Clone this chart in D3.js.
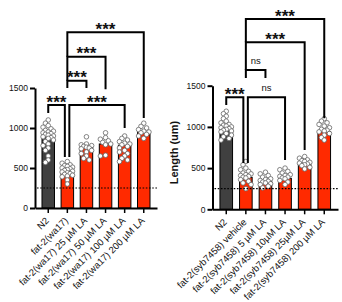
<!DOCTYPE html>
<html>
<head>
<meta charset="utf-8">
<script src="https://cdn.jsdelivr.net/npm/d3@7"></script>
<style>
  body { margin: 0; background: #fff; }
  svg { display: block; font-family: "Liberation Sans", Arial, sans-serif; }
</style>
</head>
<body>
<div id="chart"></div>
<script>
// ---- data ----
const leftGroups = ["N2", "fat-2(wa17)", "fat-2(wa17) 25 µM LA", "fat-2(wa17) 50 µM LA", "fat-2(wa17) 100 µM LA", "fat-2(wa17) 200 µM LA"];
const leftMeans = [890, 450, 755, 800, 785, 942];
const leftPoints = [
    [1100, 1060, 1030, 1010, 990, 970, 960, 950, 940, 930, 920, 910, 900, 890, 880, 870, 850, 830, 800, 780, 750, 720, 650, 600, 570],
    [580, 560, 540, 530, 520, 510, 500, 490, 480, 470, 460, 450, 440, 430, 420, 410, 400, 390, 350, 300],
    [890, 800, 790, 780, 770, 760, 750, 740, 720, 700, 680, 650, 620, 600],
    [940, 880, 860, 840, 820, 800, 790, 660, 650],
    [900, 870, 850, 830, 810, 800, 790, 770, 750, 720, 700, 680, 650, 620, 600, 580],
    [1060, 1020, 1000, 980, 960, 950, 940, 920, 900, 870]
];
// [groupA, groupB, level, legA end, legB end, label]
const leftBrackets = [
    [1, 5, 2196, 1891, 1125, "***"],
    [1, 3, 1891, 1591, 1484, "***"],
    [1, 2, 1591, 1500, 1500, "***"],
    [0, 1, 1287, 1187, 637, "***"],
    [1, 4, 1287, 637, 1000, "***"]
];

const rightGroups = ["N2", "fat-2(syb7458) vehicle", "fat-2(syb7458) 5 µM LA", "fat-2(syb7458) 10µM LA", "fat-2(syb7458) 25µM LA", "fat-2(syb7458) 200 µM LA"];
const rightMeans = [995, 388, 335, 376, 540, 942];
const rightPoints = [
    [1190, 1160, 1130, 1100, 1070, 1050, 1030, 1020, 1010, 1000, 990, 980, 970, 960, 950, 940, 920, 900, 880, 860, 840],
    [580, 540, 500, 480, 460, 440, 430, 420, 410, 400, 390, 380, 360, 340, 320, 300, 250],
    [450, 430, 410, 390, 370, 360, 350, 340, 330, 320, 310, 300, 280, 260],
    [500, 480, 460, 440, 420, 410, 400, 390, 380, 370, 350, 330, 300],
    [640, 620, 600, 590, 580, 570, 560, 550, 540, 530, 510, 490],
    [1100, 1070, 1050, 1030, 1010, 990, 970, 960, 950, 940, 920, 900, 870, 840]
];
const rightBrackets = [
    [1, 5, 2309, 2027, 1104, "***"],
    [1, 4, 2027, 1690, 720, "***"],
    [1, 2, 1690, 1593, 1593, "ns"],
    [0, 1, 1359, 1266, 562, "***"],
    [1, 3, 1359, 562, 598, "ns"]
];

const yTicks = [0, 500, 1000, 1500];
const threshold = 250;

const barColors = ["#404040", "#ff2a00"];

const svg = d3.select("#chart").append("svg")
    .attr("width", 342)
    .attr("height", 302);

function drawPanel(opts) {
    const { groups, means, points, brackets, x0, x1, yBottom, yTop, yLabel } = opts;

    const x = d3.scaleBand()
        .domain(groups)
        .range([x0, x1])
        .paddingInner(opts.padInner)
        .paddingOuter(opts.padOuter);

    const y = d3.scaleLinear()
        .domain([0, 1500])
        .range([yBottom, yTop]);

    const g = svg.append("g");

    // bars
    g.selectAll("rect.bar")
        .data(groups)
        .enter()
        .append("rect")
        .attr("class", "bar")
        .attr("x", d => x(d))
        .attr("width", x.bandwidth())
        .attr("y", (d, i) => y(means[i]))
        .attr("height", (d, i) => y(0) - y(means[i]))
        .attr("fill", (d, i) => i === 0 ? barColors[0] : barColors[1])
        .attr("stroke", "#000")
        .attr("stroke-width", 1);

    // simple beeswarm so the dots stay inside the bar
    const r = 2.3;
    const slots = [0, -2.8, 2.8, -5.2, 5.2];
    groups.forEach((grp, i) => {
        const cx = x(grp) + x.bandwidth() / 2;
        const placed = [];
        points[i].forEach(v => {
            const py = y(v);
            let best = null, bestDist = -1;
            for (const s of slots) {
                let minD = Infinity;
                placed.forEach(p => {
                    const dd = Math.hypot(p.dx - s, p.py - py);
                    if (dd < minD) minD = dd;
                });
                if (minD >= 3.4) { best = s; bestDist = Infinity; break; }
                if (minD > bestDist) { bestDist = minD; best = s; }
            }
            placed.push({ dx: best, py: py });
        });
        g.selectAll(null)
            .data(placed)
            .enter()
            .append("circle")
            .attr("cx", d => cx + d.dx)
            .attr("cy", d => d.py)
            .attr("r", r)
            .attr("fill", "#fff")
            .attr("stroke", "#666")
            .attr("stroke-width", 0.8);
    });

    // dotted threshold line
    g.append("line")
        .attr("x1", x0 + 2)
        .attr("x2", x1)
        .attr("y1", y(threshold))
        .attr("y2", y(threshold))
        .attr("stroke", "#000")
        .attr("stroke-width", 1.2)
        .attr("stroke-dasharray", "1.6,1.6");

    // axes
    const yAxis = g.append("g")
        .attr("transform", `translate(${x0},0)`)
        .call(d3.axisLeft(y).tickValues(yTicks).tickFormat(d3.format("d"))
            .tickSize(5).tickSizeOuter(0).tickPadding(2));
    yAxis.select(".domain").attr("stroke-width", 2);
    yAxis.selectAll(".tick line").attr("stroke-width", 2);
    yAxis.selectAll(".tick text")
        .attr("font-size", 8.5)
        .attr("font-family", "Liberation Sans, Arial, sans-serif")
        .attr("fill", "#111");

    const xAxis = g.append("g")
        .attr("transform", `translate(0,${yBottom})`)
        .call(d3.axisBottom(x).tickSize(5).tickSizeOuter(0));
    xAxis.select(".domain").attr("stroke-width", 2);
    xAxis.selectAll(".tick line").attr("stroke-width", 1.5);
    xAxis.selectAll(".tick text")
        .attr("font-size", 9.5)
        .attr("font-family", "Liberation Sans, Arial, sans-serif")
        .attr("fill", "#111")
        .attr("text-anchor", "end")
        .attr("x", 0)
        .attr("y", 0)
        .attr("dy", "0.35em")
        .attr("transform", "translate(-1,11) rotate(-45)");

    // significance brackets
    brackets.forEach(b => {
        const [a, bb, level, aEnd, bEnd, label] = b;
        let xa = x(groups[a]) + x.bandwidth() / 2;
        let xb = x(groups[bb]) + x.bandwidth() / 2;
        if (bb === 1) xb -= 2.5;
        if (a === 1 && brackets.some(o => o !== b && o[2] === level)) xa += 2;
        const yl = y(level);
        g.append("path")
            .attr("d", `M${xa},${y(aEnd)}V${yl}H${xb}V${y(bEnd)}`)
            .attr("fill", "none")
            .attr("stroke", "#000")
            .attr("stroke-width", 2);
        const isStar = label === "***";
        g.append("text")
            .attr("x", (xa + xb) / 2)
            .attr("y", isStar ? yl + 2.5 : yl - 6)
            .attr("text-anchor", "middle")
            .attr("font-size", isStar ? 17 : 9.5)
            .attr("font-weight", isStar ? "bold" : "normal")
            .attr("fill", "#111")
            .text(label);
    });

    if (yLabel) {
        svg.append("text")
            .attr("transform", `translate(${opts.yLabelX},${(yBottom + yTop) / 2 + 5}) rotate(-90)`)
            .attr("text-anchor", "middle")
            .attr("font-size", 11)
            .attr("font-weight", "bold")
            .attr("fill", "#111")
            .text(yLabel);
    }
}

drawPanel({
    groups: leftGroups, means: leftMeans, points: leftPoints, brackets: leftBrackets,
    x0: 35, x1: 157, yBottom: 208, yTop: 88, padInner: 0.346, padOuter: 0.366
});

drawPanel({
    groups: rightGroups, means: rightMeans, points: rightPoints, brackets: rightBrackets,
    x0: 212.5, x1: 338, yBottom: 209.3, yTop: 85.7, padInner: 0.357, padOuter: 0.38,
    yLabel: "Length (um)", yLabelX: 178
});
</script>
</body>
</html>
